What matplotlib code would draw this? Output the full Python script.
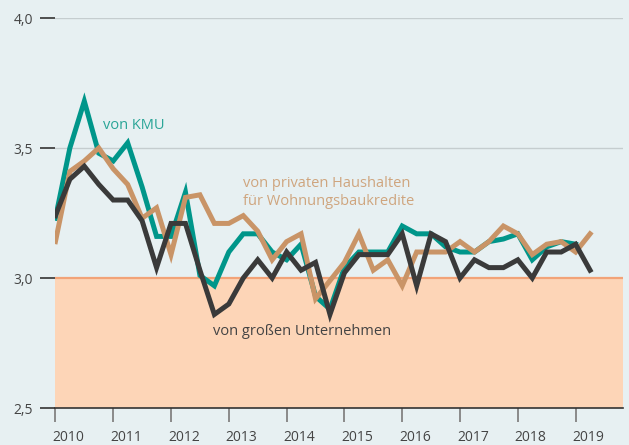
import numpy as np
import pandas as pd
import matplotlib
matplotlib.use("Agg")
import matplotlib.pyplot as plt
import matplotlib.transforms as mtransforms

plt.rcParams['font.family'] = ['Open Sans', 'DejaVu Sans']

# Quarterly data 2010Q1 .. 2019Q2
quarters = pd.period_range('2010Q1', '2019Q2', freq='Q')

kmu = [3.23, 3.50, 3.68, 3.48, 3.45, 3.52, 3.35, 3.16, 3.16, 3.33,
       3.01, 2.97, 3.10, 3.17, 3.17, 3.10, 3.07, 3.13, 2.93, 2.88,
       3.04, 3.10, 3.10, 3.10, 3.20, 3.17, 3.17, 3.12, 3.10, 3.10,
       3.14, 3.15, 3.17, 3.07, 3.12, 3.14, 3.13]

haushalte = [3.14, 3.41, 3.45, 3.50, 3.42, 3.36, 3.23, 3.27, 3.09, 3.31,
             3.32, 3.21, 3.21, 3.24, 3.18, 3.07, 3.14, 3.17, 2.92, 2.99,
             3.06, 3.17, 3.03, 3.07, 2.97, 3.10, 3.10, 3.10, 3.14, 3.10,
             3.14, 3.20, 3.17, 3.09, 3.13, 3.14, 3.10, 3.17]

grosse = [3.24, 3.38, 3.43, 3.36, 3.30, 3.30, 3.22, 3.04, 3.21, 3.21,
          3.03, 2.86, 2.90, 3.00, 3.07, 3.00, 3.10, 3.03, 3.06, 2.86,
          3.02, 3.09, 3.09, 3.09, 3.17, 2.97, 3.17, 3.14, 3.00, 3.07,
          3.04, 3.04, 3.07, 3.00, 3.10, 3.10, 3.13, 3.03]

years = list(range(2010, 2020))
y_ticks = [2.5, 3.0, 3.5, 4.0]
y_labels = ['2,5', '3,0', '3,5', '4,0']

x = np.array([p.year + (p.quarter - 1) / 4 for p in quarters])

BG = '#E7F0F2'
TEAL = '#00968A'
TAN = '#C99467'
DARK = '#3A3A3A'

fig = plt.figure(figsize=(6.29, 4.45), dpi=100, facecolor=BG)
ax = fig.add_axes([0.0881, 0.0831, 0.9024, 0.8764], facecolor=BG)

ax.set_xlim(2010, 2019.82)
ax.set_ylim(2.5, 4.0)

ax.axhspan(2.5, 3.0, color='#FDD5B7', lw=0, zorder=0)
ax.axhline(3.0, color='#F2A378', lw=1.6, zorder=1)
for g in (3.5, 4.0):
    ax.axhline(g, color='#C5CDCF', lw=1.0, zorder=0.5)

ax.plot(x[:len(kmu)], kmu, color=TEAL, lw=3.6, solid_joinstyle='miter', zorder=3)
ax.plot(x, haushalte, color=TAN, lw=3.6, solid_joinstyle='miter', zorder=4)
ax.plot(x, grosse, color=DARK, lw=3.6, solid_joinstyle='miter', zorder=5)

for s in ('top', 'right', 'left'):
    ax.spines[s].set_visible(False)
ax.spines['bottom'].set_color('#333333')
ax.spines['bottom'].set_linewidth(1.2)

ax.set_xticks(years)
ax.set_xticklabels([str(y) for y in years])
ax.set_yticks(y_ticks)
ax.set_yticklabels(y_labels)
ax.tick_params(axis='x', length=10, width=1.4, color='#8A8A8A',
               labelsize=10, labelcolor='#444444', pad=6)
ax.tick_params(axis='y', length=11, width=1.2, color='#333333',
               labelsize=10, labelcolor='#444444', pad=5)

offset = mtransforms.ScaledTranslation(-3 / 100, 0, fig.dpi_scale_trans)
for lab in ax.get_xticklabels():
    lab.set_horizontalalignment('left')
    lab.set_transform(lab.get_transform() + offset)

ax.text(2010.82, 3.588, 'von KMU', color='#2AA597', fontsize=10.5,
        va='center', ha='left')
ax.text(2013.25, 3.365, 'von privaten Haushalten', color='#CFA57E',
        fontsize=10.5, va='center', ha='left')
ax.text(2013.25, 3.296, 'für Wohnungsbaukredite', color='#CFA57E',
        fontsize=10.5, va='center', ha='left')
ax.text(2012.73, 2.796, 'von großen Unternehmen', color='#444444',
        fontsize=10.5, va='center', ha='left')

fig.savefig('out.png', dpi=100, facecolor=BG)
